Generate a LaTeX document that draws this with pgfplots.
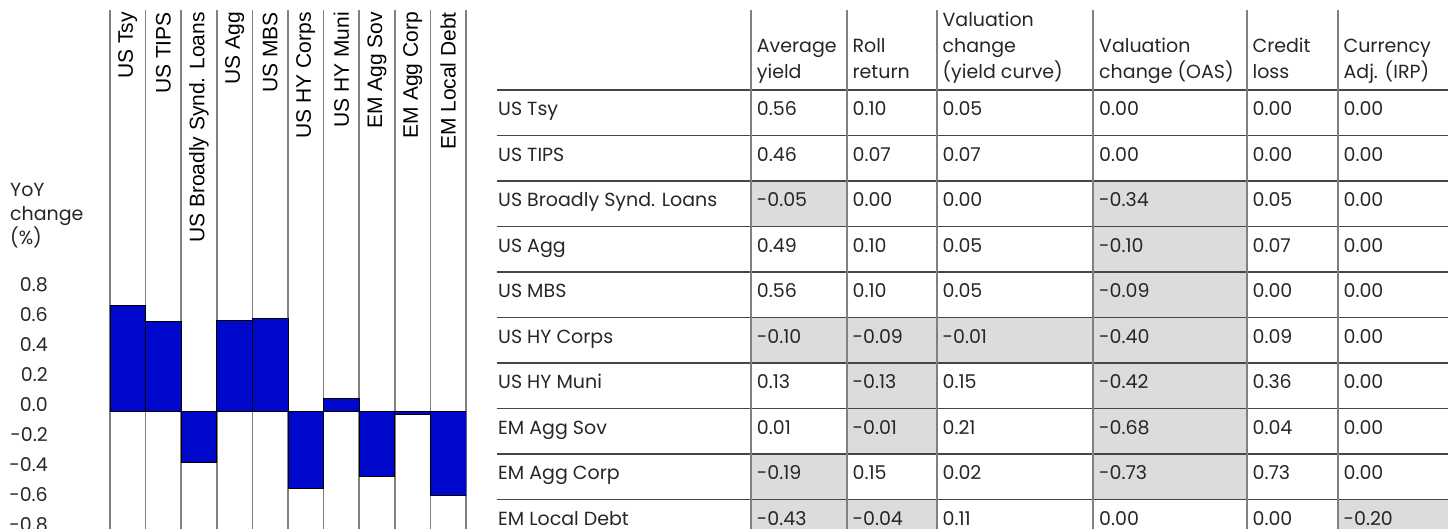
\documentclass[border=0pt]{standalone}
\usepackage{pgfplots}
\pgfplotsset{compat=1.18}
\usepackage{fontspec}
\setmainfont{Poppins}
\newfontfamily\arialf{Liberation Sans}
\definecolor{barblue}{RGB}{0,8,204}
\definecolor{cellgray}{RGB}{220,220,220}
\definecolor{vline}{RGB}{128,128,128}
\definecolor{hline}{RGB}{70,70,70}
\definecolor{txt}{RGB}{38,38,38}
\newcommand\cellval[4]{%
  \ifdim #4pt<0pt \fill[cellgray] (#1,#3) rectangle (#2,#3+45.5);\fi
  \node[anchor=base west, inner sep=0pt, text=txt] at (#1+5.7,#3+25.7) {#4};}
\begin{document}
\begin{tikzpicture}[font=\fontsize{19}{24}\selectfont]
\useasboundingbox (0,0) rectangle (1448pt,529pt);
\clip (0,0) rectangle (1448pt,529pt);
\begin{axis}[
  at={(110pt,-2.7pt)}, anchor=south west, scale only axis,
  width=356pt, height=521.7pt,
  xmin=-0.5, xmax=9.5, ymin=-0.8, ymax=2.678,
  axis line style={draw=none},
  tick style={draw=none},
  major tick length=0pt, minor tick length=0pt,
  xtick={0,1,2,3,4,5,6,7,8,9},
  xticklabels={US Tsy, US TIPS, US Broadly Synd. Loans, US Agg, US MBS, US HY Corps, US HY Muni, EM Agg Sov, EM Agg Corp, EM Local Debt},
  xticklabel pos=upper,
  x tick label style={yshift=-2pt, rotate=90, anchor=east, inner sep=0pt, font=\arialf\fontsize{21}{24}\selectfont, text=black},
  minor xtick={-0.5,0.5,1.5,2.5,3.5,4.5,5.5,6.5,7.5,8.5,9.5},
  xminorgrids,
  minor x grid style={vline, line width=1.5pt},
  ytick={-0.8,-0.6,-0.4,-0.2,0,0.2,0.4,0.6,0.8},
  yticklabels={-0.8,-0.6,-0.4,-0.2,0.0,0.2,0.4,0.6,0.8},
  y tick label style={anchor=base east, inner sep=0pt, xshift=-62pt, text=txt},
  extra y ticks={0}, extra y tick labels={},
  extra y tick style={ymajorgrids, major y grid style={black, line width=1.5pt}},
]
\addplot[ybar, bar width=1, bar shift=0pt, fill=barblue, draw=black, line width=0.8pt]
  coordinates {(0,0.71) (1,0.60) (2,-0.34) (3,0.61) (4,0.62) (5,-0.51) (6,0.09) (7,-0.43) (8,-0.02) (9,-0.56)};
\end{axis}
\begin{scope}[shift={(0,529pt)}, x=1pt, y=-1pt]
  % y axis title
  \node[anchor=base west, inner sep=0pt, text=txt] at (10,196.7) {YoY};
  \node[anchor=base west, inner sep=0pt, text=txt] at (10,220.7) {change};
  \node[anchor=base west, inner sep=0pt, text=txt] at (10,244.7) {(\%)};
  % table body
  \foreach \nm/\va/\vb/\vc/\vd/\ve/\vf [count=\r from 0] in {
    US Tsy/0.56/0.10/0.05/0.00/0.00/0.00,
    US TIPS/0.46/0.07/0.07/0.00/0.00/0.00,
    US Broadly Synd. Loans/-0.05/0.00/0.00/-0.34/0.05/0.00,
    US Agg/0.49/0.10/0.05/-0.10/0.07/0.00,
    US MBS/0.56/0.10/0.05/-0.09/0.00/0.00,
    US HY Corps/-0.10/-0.09/-0.01/-0.40/0.09/0.00,
    US HY Muni/0.13/-0.13/0.15/-0.42/0.36/0.00,
    EM Agg Sov/0.01/-0.01/0.21/-0.68/0.04/0.00,
    EM Agg Corp/-0.19/0.15/0.02/-0.73/0.73/0.00,
    EM Local Debt/-0.43/-0.04/0.11/0.00/0.00/-0.20}{
    \pgfmathsetmacro\tp{90+45.5*\r}
    \node[anchor=base west, inner sep=0pt, text=txt] at (498,\tp+25.7) {\nm};
    \cellval{751}{846.7}{\tp}{\va}
    \cellval{846.7}{936.7}{\tp}{\vb}
    \cellval{936.7}{1093.3}{\tp}{\vc}
    \cellval{1093.3}{1246.7}{\tp}{\vd}
    \cellval{1246.7}{1337.7}{\tp}{\ve}
    \cellval{1337.7}{1448}{\tp}{\vf}
  }
  % header
  \begin{scope}[every node/.style={anchor=base west, inner sep=0pt, text=txt}]
    \node at (756.7,53) {Average}; \node at (756.7,79) {yield};
    \node at (852.4,53) {Roll}; \node at (852.4,79) {return};
    \node at (942.4,27) {Valuation}; \node at (942.4,53) {change}; \node at (942.4,79) {(yield curve)};
    \node at (1099,53) {Valuation}; \node at (1099,79) {change (OAS)};
    \node at (1252.4,53) {Credit}; \node at (1252.4,79) {loss};
    \node at (1343.4,53) {Currency}; \node at (1343.4,79) {Adj. (IRP)};
  \end{scope}
  % lines
  \foreach \yy in {90,135.5,181,226.5,272,317.5,363,408.5,454,499.5}
    \draw[hline, line width=1.5pt] (497,\yy) -- (1448,\yy);
  \foreach \xx in {751,846.7,936.7,1093.3,1246.7,1337.7}
    \draw[vline, line width=2pt] (\xx,10) -- (\xx,540);
\end{scope}
\end{tikzpicture}
\end{document}
